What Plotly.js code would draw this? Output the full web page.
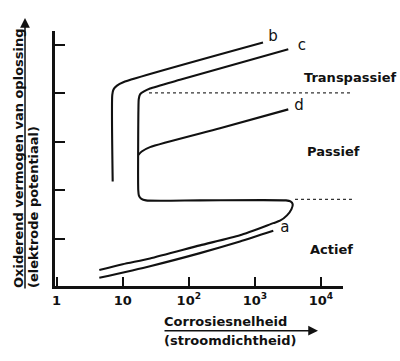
<!DOCTYPE html>
<html>
<head>
<meta charset="utf-8">
<script src="https://cdn.plot.ly/plotly-3.0.1.min.js"></script>
<style>html,body{margin:0;padding:0;background:#fff;}#chart{width:400px;height:361px;}</style>
</head>
<body>
<div id="chart"></div>
<script>
// ---- data ----
const curveA_x = [4.43, 25.9, 147.6, 595, 1898];
const curveA_y = [0.19, 0.43, 0.70, 0.94, 1.16];

const curveB_x = [7.06, 6.96, 7.26, 8.20, 10.2, 1327];
const curveB_y = [2.18, 3.97, 4.08, 4.16, 4.23, 5.05];

const curveC_x = [3200, 73.6, 25.9, 21.0, 18.3, 17.5, 17.3, 17.2, 17.6, 19.2, 22.5, 147.6, 2956, 3455, 3733, 3578, 3060, 2397, 1898, 595, 147.6, 25.9, 10, 4.43];
const curveC_y = [4.91, 4.28, 4.10, 4.04, 3.98, 3.88, 3.66, 2.00, 1.89, 1.82, 1.79, 1.79, 1.79, 1.77, 1.71, 1.61, 1.48, 1.37, 1.32, 1.07, 0.86, 0.59, 0.47, 0.35];

const curveD_x = [17.3, 19.4, 25.9, 296.5, 3200];
const curveD_y = [2.73, 2.80, 2.89, 3.28, 3.67];

const curveLabels = ['a', 'b', 'c', 'd'];
const curveLabel_x = [2851, 1879, 5160, 4650];
const curveLabel_y = [1.22, 5.17, 4.98, 3.74];

const zoneLabels = ['Transpassief', 'Passief', 'Actief'];
const zoneLabel_y = [4.32, 2.81, 0.785];

const boundary_y = [4.01, 1.81];
const boundaryStart_x = [25.0, 4045];
const boundaryEnd_x = 29400;

const xTickVals = [1, 10, 100, 1000, 10000];
const xTickText = ['1', '10', '10<sup>2</sup>', '10<sup>3</sup>', '10<sup>4</sup>'];
const yTickVals = [1, 2, 3, 4, 5];

// ---- layout constants ----
const M = {l: 55, r: 57, t: 31, b: 75};
const W = 400, H = 361;
const PW = W - M.l - M.r, PH = H - M.t - M.b;
const xRange = [-0.024, 4.333];
const yRange = [0.021, 5.289];
const px2paperX = px => (px - M.l) / PW;
const py2paperY = py => (H - M.b - py) / PH;
const x2paper = v => (Math.log10(v) - xRange[0]) / (xRange[1] - xRange[0]);

const FONT = 'DejaVu Sans, Verdana, sans-serif';
const INK = '#111';
const lineStyle = {color: INK, width: 2.1, shape: 'spline', smoothing: 0.6};

const traces = [
  {x: curveA_x, y: curveA_y, mode: 'lines', line: lineStyle, hoverinfo: 'skip'},
  {x: curveB_x, y: curveB_y, mode: 'lines', line: lineStyle, hoverinfo: 'skip'},
  {x: curveC_x, y: curveC_y, mode: 'lines', line: lineStyle, hoverinfo: 'skip'},
  {x: curveD_x, y: curveD_y, mode: 'lines', line: lineStyle, hoverinfo: 'skip'},
  {x: curveLabel_x, y: curveLabel_y, text: curveLabels, mode: 'text', textposition: 'middle center',
   textfont: {family: FONT, size: 15, color: INK}, cliponaxis: false, hoverinfo: 'skip'}
];

const shapes = boundary_y.map((yv, i) => ({
  type: 'line', xref: 'paper', yref: 'y',
  x0: x2paper(boundaryStart_x[i]), x1: x2paper(boundaryEnd_x), y0: yv, y1: yv,
  line: {color: '#333', width: 1.2, dash: 'dot'}
}));

const boldFont = {family: FONT, size: 13, color: INK, weight: 'bold'};
const zoneX = [px2paperX(350), px2paperX(333), px2paperX(331)];
const annotations = zoneLabels.map((t, i) => ({
  text: t, xref: 'paper', yref: 'y', x: zoneX[i], y: zoneLabel_y[i],
  xanchor: 'center', yanchor: 'middle', showarrow: false, font: boldFont
}));

annotations.push(
  {text: 'Oxiderend vermogen van oplossing', textangle: -90, xref: 'paper', yref: 'paper',
   x: px2paperX(18), y: py2paperY(290), xanchor: 'center', yanchor: 'bottom', showarrow: false, font: boldFont},
  {text: '(elektrode potentiaal)', textangle: -90, xref: 'paper', yref: 'paper',
   x: px2paperX(33), y: py2paperY(290), xanchor: 'center', yanchor: 'bottom', showarrow: false, font: boldFont},
  {text: '', xref: 'paper', yref: 'paper', x: px2paperX(25), y: py2paperY(18),
   showarrow: true, axref: 'pixel', ayref: 'pixel', ax: 0, ay: 272, standoff: 0,
   arrowhead: 2, arrowsize: 1.3, arrowwidth: 1.5, arrowcolor: INK},
  {text: 'Corrosiesnelheid', xref: 'paper', yref: 'paper',
   x: px2paperX(162), y: py2paperY(321.7), xanchor: 'left', yanchor: 'middle', showarrow: false, font: boldFont},
  {text: '(stroomdichtheid)', xref: 'paper', yref: 'paper',
   x: px2paperX(162), y: py2paperY(340), xanchor: 'left', yanchor: 'middle', showarrow: false, font: boldFont},
  {text: '', xref: 'paper', yref: 'paper', x: px2paperX(318), y: py2paperY(330.7),
   showarrow: true, axref: 'pixel', ayref: 'pixel', ax: -155, ay: 0, standoff: 0,
   arrowhead: 2, arrowsize: 1.3, arrowwidth: 1.5, arrowcolor: INK}
);

const layout = {
  width: W, height: H, margin: M,
  paper_bgcolor: '#fff', plot_bgcolor: '#fff', showlegend: false,
  xaxis: {type: 'log', range: xRange, showgrid: false, zeroline: false,
    showline: true, linewidth: 3, linecolor: INK,
    ticks: 'inside', ticklen: 9, tickwidth: 2, tickcolor: INK,
    tickmode: 'array', tickvals: xTickVals, ticktext: xTickText,
    tickfont: boldFont},
  yaxis: {range: yRange, showgrid: false, zeroline: false,
    showline: true, linewidth: 3, linecolor: INK,
    ticks: 'inside', ticklen: 10, tickwidth: 2, tickcolor: INK,
    tickmode: 'array', tickvals: yTickVals, showticklabels: false},
  shapes: shapes, annotations: annotations
};

Plotly.newPlot('chart', traces, layout, {staticPlot: true, displayModeBar: false});
</script>
</body>
</html>
